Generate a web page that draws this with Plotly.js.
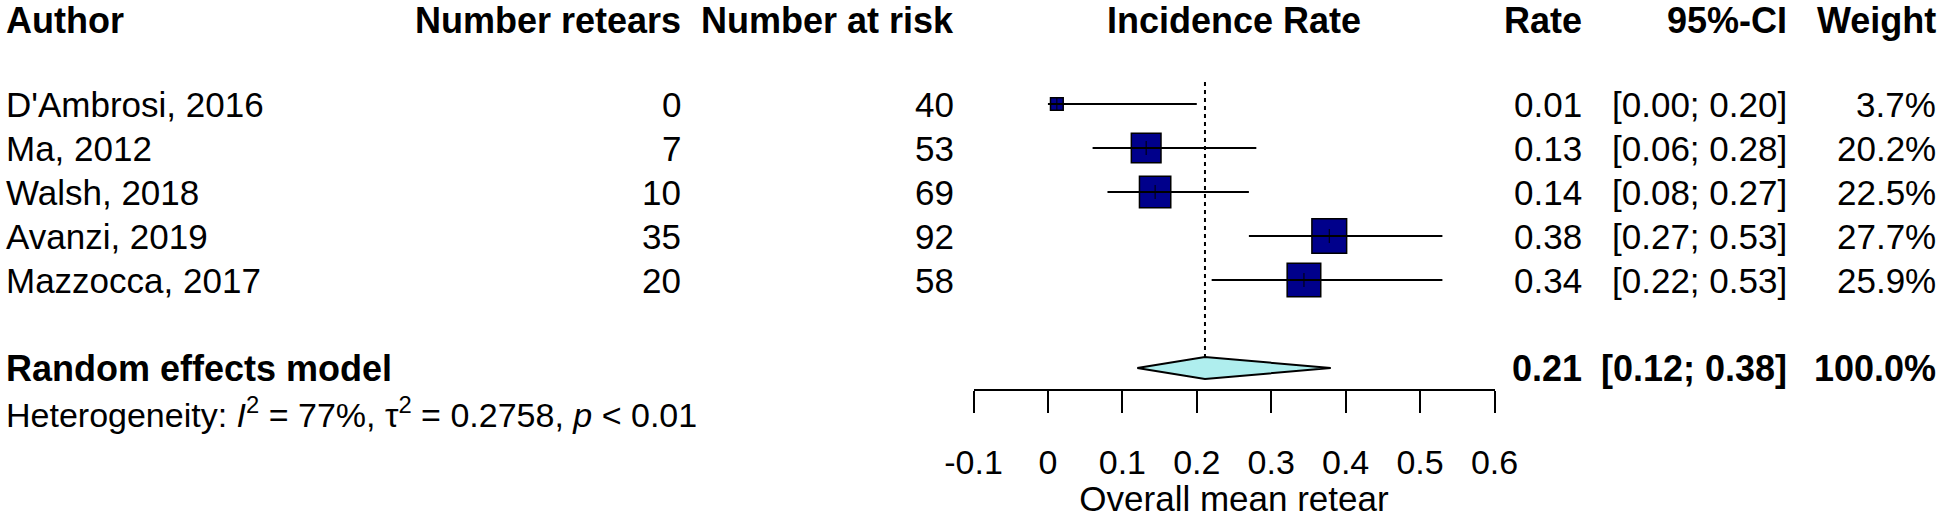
<!DOCTYPE html>
<html>
<head>
<meta charset="utf-8">
<script src="https://cdn.plot.ly/plotly-3.0.1.min.js"></script>
<style>html,body{margin:0;padding:0;background:#fff;}#chart{width:1946px;height:518px;}</style>
</head>
<body>
<div id="chart"></div>
<script>
// ---- data ----
const authors = ["D'Ambrosi, 2016", "Ma, 2012", "Walsh, 2018", "Avanzi, 2019", "Mazzocca, 2017"];
const events = [0, 7, 10, 35, 20];
const totals = [40, 53, 69, 92, 58];
const rate = [0.012, 0.132, 0.144, 0.378, 0.344];
const ciLow = [0.00, 0.06, 0.08, 0.27, 0.22];
const ciHigh = [0.20, 0.28, 0.27, 0.53, 0.53];
const weight = [3.7, 20.2, 22.5, 27.7, 25.9];
const pooledLabel = "Random effects model";
const pooledRate = 0.211;
const pooledLow = 0.12;
const pooledHigh = 0.38;
const pooledWeight = 100.0;
const hetText = "Heterogeneity: <i>I</i><sup>2</sup> = 77%, \u03c4<sup>2</sup> = 0.2758, <i>p</i> &lt; 0.01";
const headers = ["Author", "Number retears", "Number at risk", "Incidence Rate", "Rate", "95%-CI", "Weight"];
const tickVals = [-0.1, 0, 0.1, 0.2, 0.3, 0.4, 0.5, 0.6];
const tickLabels = ["-0.1", "0", "0.1", "0.2", "0.3", "0.4", "0.5", "0.6"];
const xTitle = "Overall mean retear";

// ---- layout helpers ----
const W = 1946, H = 518;
const FONT = "Liberation Sans, Arial, Helvetica, sans-serif";
const rowPx = 44, firstRowPx = 16;           // header row centre
const rowTop = 1 - firstRowPx / rowPx;       // y value at top pixel
const rowBottom = rowTop + H / rowPx;        // y value at bottom pixel
const axisRow = 9.5;
const px = v => v / W;
const studyRows = authors.map((_, i) => 3 + i);
const headerRow = 1 + 4 / rowPx;
const pooledRow = 9, hetRow = 10;
const xDomain = [973.5 / W, 1494.5 / W];

const col = {author: px(4), events: px(683), totals: px(956), rate: px(1584), ci: px(1789), weight: px(1938)};

const fmtCI = (l, h) => "[" + l.toFixed(2) + "; " + h.toFixed(2) + "]";

// ---- traces ----
const ciX = [], ciY = [];
rate.forEach((_, i) => { ciX.push(ciLow[i], ciHigh[i], null); ciY.push(studyRows[i], studyRows[i], null); });

const dHalf = 0.25;
const traces = [
  { // reference (dotted) line at pooled estimate
    x: [pooledRate, pooledRate], y: [2.5, pooledRow], mode: "lines",
    line: {color: "black", width: 2, dash: "4px,4px"}, hoverinfo: "skip", showlegend: false
  },
  { // squares
    x: rate, y: studyRows, mode: "markers",
    marker: {symbol: "square", size: weight.map(w => Math.sqrt(w) * 6.6), color: "#00008B", opacity: 1,
             line: {color: "black", width: 1.5}},
    hoverinfo: "skip", showlegend: false, cliponaxis: false
  },
  { // CI lines
    x: ciX, y: ciY, mode: "lines", line: {color: "black", width: 2},
    hoverinfo: "skip", showlegend: false
  },
  { // estimate ticks
    x: rate, y: studyRows, mode: "markers",
    marker: {symbol: "line-ns", size: 10, opacity: 1, line: {color: "black", width: 1}},
    hoverinfo: "skip", showlegend: false, cliponaxis: false
  },
  { // pooled diamond
    x: [pooledLow, pooledRate, pooledHigh, pooledRate, pooledLow],
    y: [pooledRow, pooledRow - dHalf, pooledRow, pooledRow + dHalf, pooledRow],
    mode: "lines", fill: "toself", fillcolor: "#AFEEEE",
    line: {color: "black", width: 2}, hoverinfo: "skip", showlegend: false
  }
];

// ---- annotations (table text) ----
const ann = [];
function txt(text, x, row, anchor, opts) {
  opts = opts || {};
  ann.push({
    text: text, x: x, y: row, xref: opts.xref || "paper", yref: "y",
    xanchor: anchor, yanchor: "middle", showarrow: false,
    font: {family: FONT, size: opts.size || 35, color: "black"}
  });
}
const B = s => "<b>" + s + "</b>";
const xMid = (xDomain[0] + xDomain[1]) / 2;
txt(B(headers[0]), col.author, headerRow, "left", {size: 36});
txt(B(headers[1]), col.events, headerRow, "right", {size: 36});
txt(B(headers[2]), col.totals, headerRow, "right", {size: 36});
txt(B(headers[3]), xMid, headerRow, "center", {size: 36});
txt(B(headers[4]), col.rate, headerRow, "right", {size: 36});
txt(B(headers[5]), col.ci, headerRow, "right", {size: 36});
txt(B(headers[6]), col.weight, headerRow, "right", {size: 36});

authors.forEach((a, i) => {
  const r = studyRows[i];
  txt(a, col.author, r, "left");
  txt(String(events[i]), col.events, r, "right");
  txt(String(totals[i]), col.totals, r, "right");
  txt(rate[i].toFixed(2), col.rate, r, "right");
  txt(fmtCI(ciLow[i], ciHigh[i]), col.ci, r, "right");
  txt(weight[i].toFixed(1) + "%", col.weight, r, "right");
});

txt(B(pooledLabel), col.author, pooledRow, "left", {size: 36});
txt(B(pooledRate.toFixed(2)), col.rate, pooledRow, "right", {size: 36});
txt(B(fmtCI(pooledLow, pooledHigh)), col.ci, pooledRow, "right", {size: 36});
txt(B(pooledWeight.toFixed(1) + "%"), col.weight, pooledRow, "right", {size: 36});
txt(hetText, col.author, hetRow, "left", {size: 34});

const layout = {
  width: W, height: H,
  margin: {l: 0, r: 0, t: 0, b: 0, pad: 0},
  paper_bgcolor: "white", plot_bgcolor: "rgba(0,0,0,0)",
  font: {family: FONT, color: "black"},
  showlegend: false,
  xaxis: {
    domain: xDomain, range: [tickVals[0], tickVals[tickVals.length - 1]],
    anchor: "free", position: 1 - (axisRow - rowTop) / (rowBottom - rowTop),
    tickmode: "array", tickvals: tickVals, ticktext: tickLabels,
    showline: true, linecolor: "black", linewidth: 2,
    ticks: "outside", ticklen: 22, tickwidth: 2, tickcolor: "black",
    tickfont: {family: FONT, size: 34, color: "black"},
    ticklabelstandoff: 20,
    showgrid: false, zeroline: false, fixedrange: true,
    title: {text: xTitle, font: {family: FONT, size: 35, color: "black"}, standoff: 4}
  },
  yaxis: {
    domain: [0, 1], range: [rowBottom, rowTop], visible: false, fixedrange: true
  },
  annotations: ann
};

Plotly.newPlot("chart", traces, layout, {staticPlot: true, displayModeBar: false});
</script>
</body>
</html>
